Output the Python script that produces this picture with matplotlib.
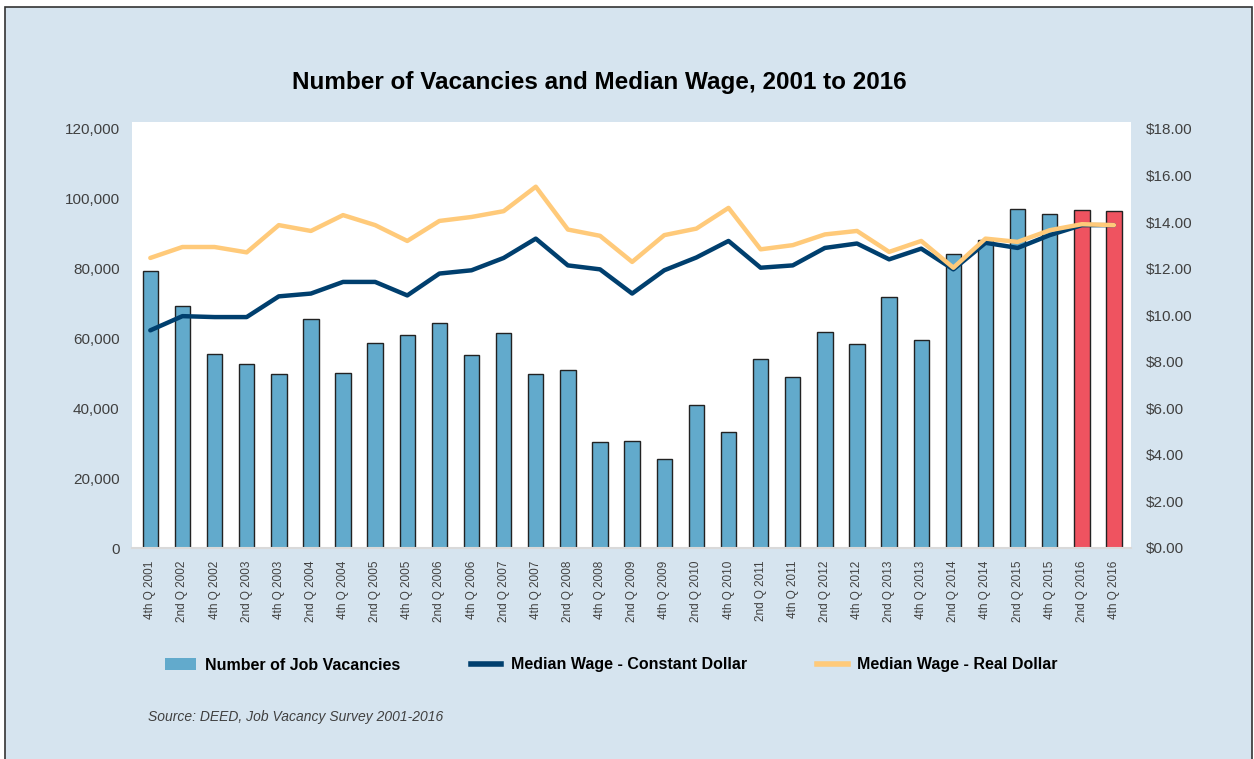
import matplotlib
matplotlib.use("Agg")
import matplotlib.pyplot as plt
from matplotlib.patches import Rectangle, Patch
from matplotlib.lines import Line2D
from matplotlib.ticker import FuncFormatter

plt.rcParams['font.family'] = ['Liberation Sans', 'DejaVu Sans']

quarters = ['4th Q 2001', '2nd Q 2002', '4th Q 2002', '2nd Q 2003', '4th Q 2003',
            '2nd Q 2004', '4th Q 2004', '2nd Q 2005', '4th Q 2005', '2nd Q 2006',
            '4th Q 2006', '2nd Q 2007', '4th Q 2007', '2nd Q 2008', '4th Q 2008',
            '2nd Q 2009', '4th Q 2009', '2nd Q 2010', '4th Q 2010', '2nd Q 2011',
            '4th Q 2011', '2nd Q 2012', '4th Q 2012', '2nd Q 2013', '4th Q 2013',
            '2nd Q 2014', '4th Q 2014', '2nd Q 2015', '4th Q 2015', '2nd Q 2016',
            '4th Q 2016']
vacancies = [79300, 69200, 55700, 52800, 49900, 65700, 50200, 58800, 61100, 64300,
             55400, 61700, 49900, 51100, 30400, 30700, 25500, 41000, 33300, 54000,
             49100, 62000, 58300, 71800, 59700, 84100, 88100, 97000, 95600, 96700,
             96500]
wage_constant = [9.35, 9.96, 9.92, 9.92, 10.81, 10.93, 11.43, 11.43, 10.85, 11.79,
                 11.93, 12.46, 13.29, 12.14, 11.97, 10.93, 11.93, 12.48, 13.19, 12.04,
                 12.14, 12.89, 13.08, 12.40, 12.86, 11.97, 13.11, 12.89, 13.44, 13.87,
                 13.87]
wage_real = [12.46, 12.93, 12.93, 12.70, 13.87, 13.62, 14.30, 13.87, 13.19, 14.05,
             14.22, 14.47, 15.52, 13.68, 13.41, 12.29, 13.44, 13.72, 14.61, 12.83,
             13.01, 13.47, 13.62, 12.72, 13.19, 12.04, 13.29, 13.15, 13.65, 13.91,
             13.87]

BG = '#D6E4EF'
BAR = '#62AACC'
BAR_NEW = '#EF5360'
NAVY = '#003F6E'
ORANGE = '#FFCA7A'

fig = plt.figure(figsize=(12.54, 7.59), dpi=100)
fig.patch.set_facecolor('white')
fig.patches.append(Rectangle((5 / 1254, -0.01), 1247 / 1254, 1 - 7 / 759 + 0.01,
                             transform=fig.transFigure, facecolor=BG,
                             edgecolor='#333333', linewidth=1.2, zorder=-10))

L, R, T, B = 132, 1131, 122, 548
ax = fig.add_axes([L / 1254, 1 - B / 759, (R - L) / 1254, (B - T) / 759])
ax.set_facecolor('white')
x = list(range(len(quarters)))
colors = [BAR_NEW if q.endswith('2016') else BAR for q in quarters]
ax.bar(x, vacancies, width=0.48, color=colors, edgecolor='#222222', linewidth=1.0, zorder=2)
ax.set_xlim(-0.57, len(quarters) - 0.47)
ax.set_ylim(0, 122000)
ax.set_yticks(range(0, 120001, 20000))
ax.yaxis.set_major_formatter(FuncFormatter(lambda v, p: f'{int(v):,}'))
ax.set_xticks(x)
ax.set_xticklabels(quarters, rotation=90)
for s in ['top', 'right', 'left']:
    ax.spines[s].set_visible(False)
ax.spines['bottom'].set_color('#d9d9d9')
ax.spines['bottom'].set_linewidth(1.5)
ax.tick_params(axis='both', length=0, colors='#404040')
ax.tick_params(axis='y', labelsize=11, pad=9)
ax.tick_params(axis='x', labelsize=8.5, pad=9)

ax2 = ax.twinx()
ax2.plot(x, wage_constant, color=NAVY, linewidth=3.2, solid_capstyle='round', zorder=3)
ax2.plot(x, wage_real, color=ORANGE, linewidth=3.2, solid_capstyle='round', zorder=4)
ax2.set_ylim(0, 18.30)
ax2.set_yticks([i * 2 for i in range(10)])
ax2.yaxis.set_major_formatter(FuncFormatter(lambda v, p: f'${v:.2f}'))
for s in ax2.spines.values():
    s.set_visible(False)
ax2.tick_params(axis='y', length=0, colors='#404040', labelsize=11, pad=11)

fig.text(599 / 1254, 1 - 82 / 759, 'Number of Vacancies and Median Wage, 2001 to 2016',
         ha='center', va='center', fontsize=17.5, fontweight='bold', color='black')

handles = [Patch(facecolor=BAR, edgecolor='none'),
           Line2D([0], [0], color=NAVY, linewidth=4),
           Line2D([0], [0], color=ORANGE, linewidth=4)]
labels = ['Number of Job Vacancies', 'Median Wage - Constant Dollar', 'Median Wage - Real Dollar']
fig.legend(handles, labels, loc='center left', bbox_to_anchor=(151 / 1254, 1 - 665 / 759),
           ncol=3, frameon=False, columnspacing=4.4, handlelength=1.9, handletextpad=0.6,
           prop={'size': 11.5, 'weight': 'bold'})

fig.text(148 / 1254, 1 - 717 / 759, 'Source: DEED, Job Vacancy Survey 2001-2016',
         ha='left', va='center', fontsize=10, style='italic', color='#404040')

fig.savefig('out.png', dpi=100, facecolor=fig.get_facecolor())
